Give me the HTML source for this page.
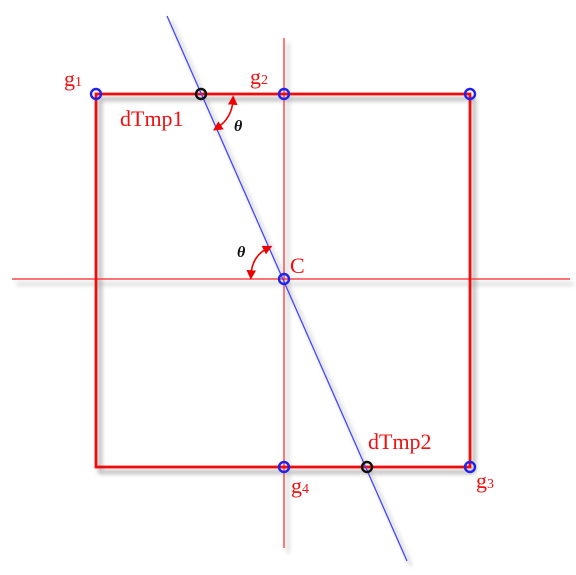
<!DOCTYPE html>
<html><head><meta charset="utf-8"><style>
html,body{margin:0;padding:0;background:#fff;}
svg{display:block;}
text{font-family:"Liberation Serif",serif;}
</style></head><body>
<svg width="576" height="575" viewBox="0 0 576 575">
<defs>
<filter id="sh" x="-10%" y="-10%" width="130%" height="130%">
<feGaussianBlur in="SourceAlpha" stdDeviation="2.5"/>
<feOffset dx="4" dy="5" result="b"/>
<feComponentTransfer><feFuncA type="linear" slope="0.4"/></feComponentTransfer>
<feMerge><feMergeNode/><feMergeNode in="SourceGraphic"/></feMerge>
</filter>
<marker id="ah" markerWidth="6" markerHeight="6" refX="3" refY="3" orient="auto-start-reverse"><path d="M0,0 L6,3 L0,6 Z" fill="#e00"/></marker>
</defs>
<g filter="url(#sh)">
<line x1="284" y1="38" x2="284" y2="548" stroke="#f22" stroke-width="1.2"/>
<line x1="12" y1="279" x2="570" y2="279" stroke="#f22" stroke-width="1.2"/>
<rect x="96" y="94" width="374" height="373" fill="none" stroke="#e11" stroke-width="2.8"/>
<line x1="167" y1="16" x2="407" y2="561" stroke="#44f" stroke-width="1.3"/>
</g>
<g fill="none" stroke-width="2.4">
<circle cx="96" cy="94" r="5" stroke="#22e"/>
<circle cx="284" cy="94" r="5" stroke="#22e"/>
<circle cx="470" cy="94" r="5" stroke="#22e"/>
<circle cx="284" cy="279" r="5" stroke="#22e"/>
<circle cx="284" cy="467" r="5" stroke="#22e"/>
<circle cx="470" cy="467" r="5" stroke="#22e"/>
<circle cx="201" cy="94" r="5" stroke="#111"/>
<circle cx="367" cy="467" r="5" stroke="#111"/>
</g>
<path d="M217,128 Q232,118 233,100" fill="none" stroke="#e00" stroke-width="1.6" marker-start="url(#ah)" marker-end="url(#ah)"/>
<path d="M268,248 Q252,256 251,275" fill="none" stroke="#e00" stroke-width="1.6" marker-start="url(#ah)" marker-end="url(#ah)"/>
<g fill="#e11" font-size="22">
<text x="64" y="86">g<tspan font-size="14">1</tspan></text>
<text x="250" y="84">g<tspan font-size="14">2</tspan></text>
<text x="476" y="488">g<tspan font-size="14">3</tspan></text>
<text x="291" y="493">g<tspan font-size="14">4</tspan></text>
<text x="290" y="273">C</text>
<text x="120" y="126">dTmp1</text>
<text x="368" y="449">dTmp2</text>
</g>
<g fill="#111" font-size="16" font-style="italic" font-weight="bold">
<text x="234" y="131">θ</text>
<text x="237" y="257">θ</text>
</g>
</svg>
</body></html>
